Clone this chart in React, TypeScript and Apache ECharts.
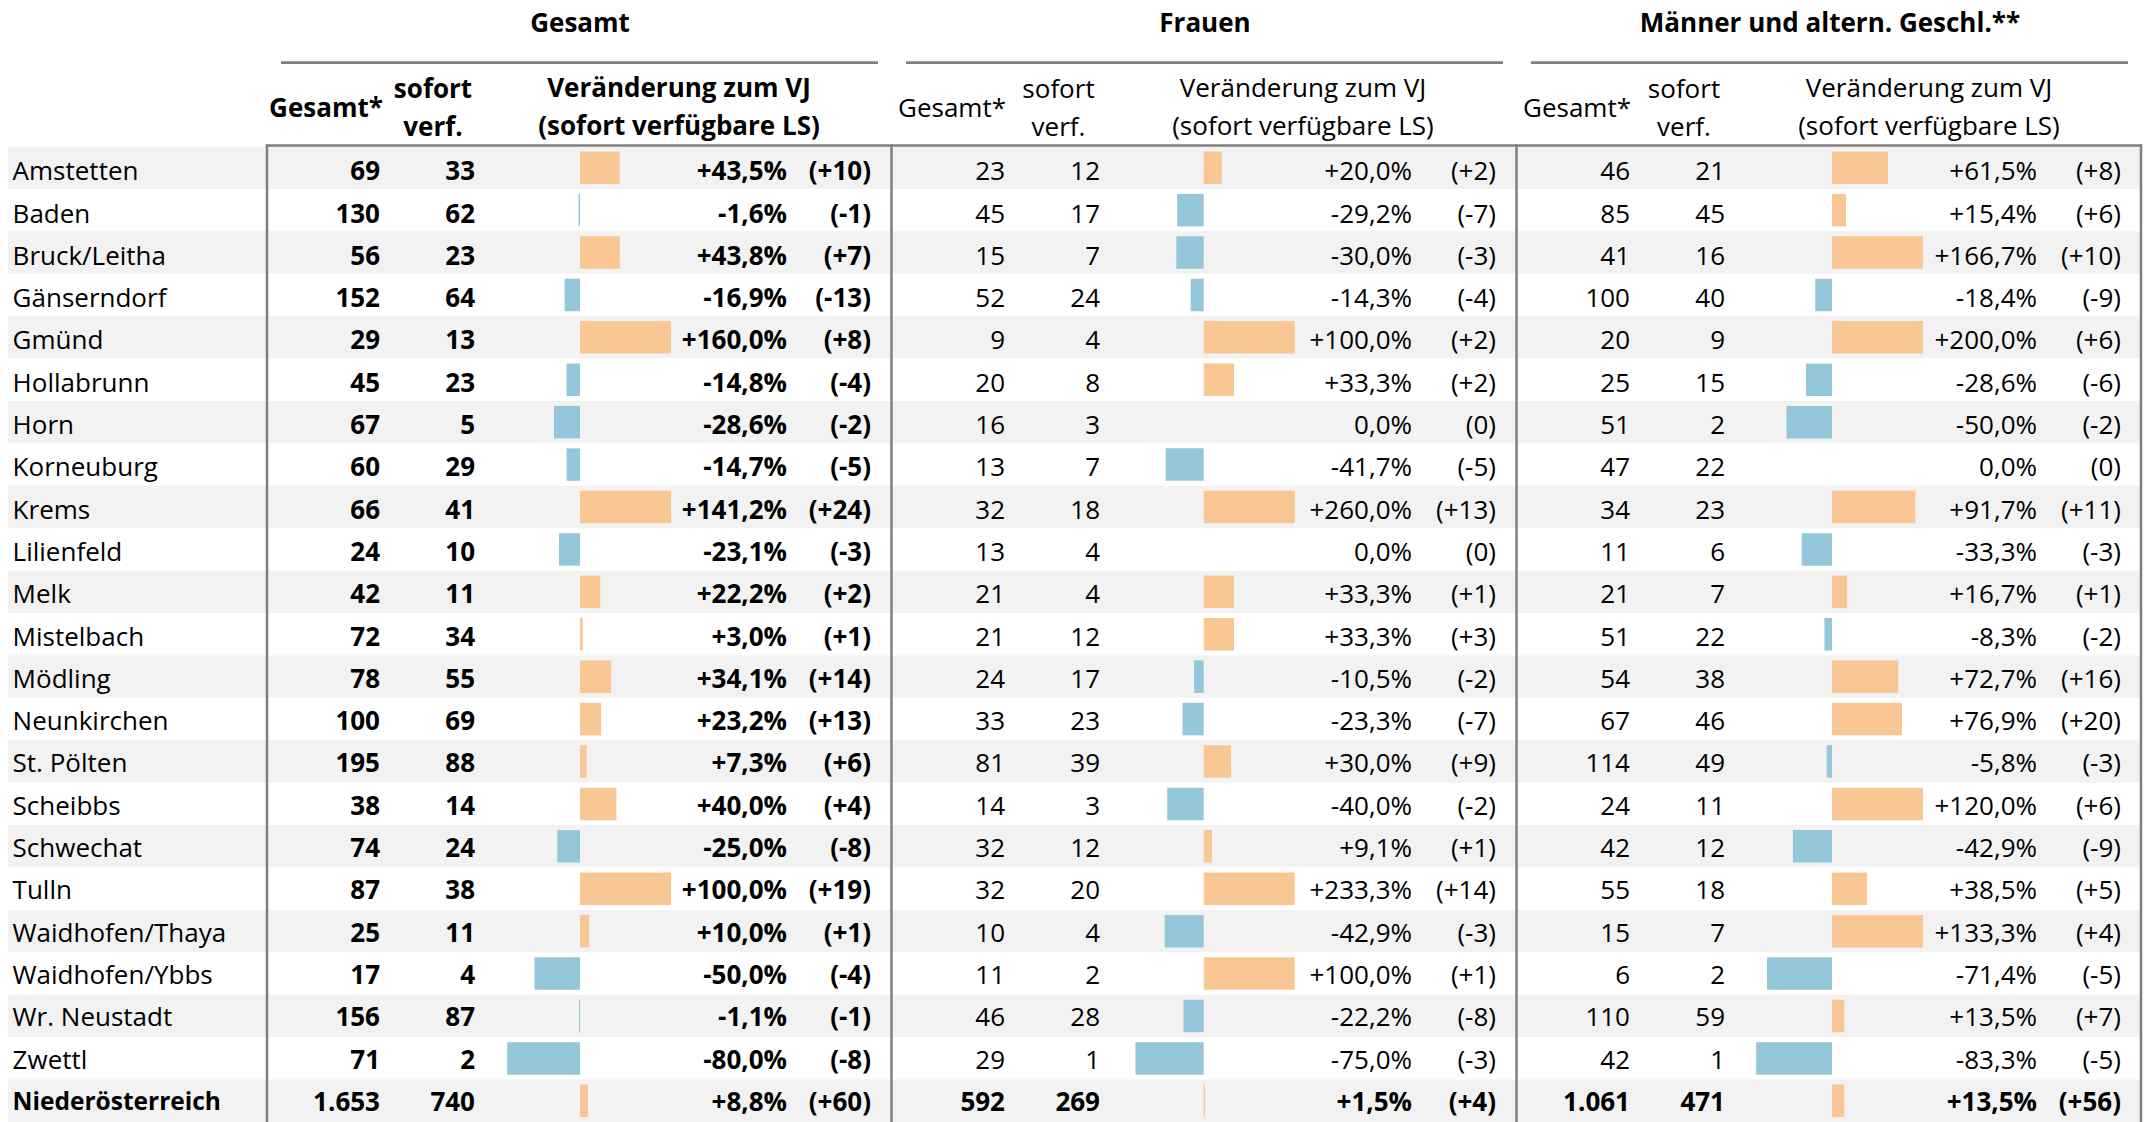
import React, { useEffect, useRef } from "react";
import * as echarts from "echarts";

// ---------- data ----------
const regions = [
  "Amstetten", "Baden", "Bruck/Leitha", "Gänserndorf", "Gmünd", "Hollabrunn", "Horn",
  "Korneuburg", "Krems", "Lilienfeld", "Melk", "Mistelbach", "Mödling", "Neunkirchen",
  "St. Pölten", "Scheibbs", "Schwechat", "Tulln", "Waidhofen/Thaya", "Waidhofen/Ybbs",
  "Wr. Neustadt", "Zwettl", "Niederösterreich",
];

const gesamtTotal = [69, 130, 56, 152, 29, 45, 67, 60, 66, 24, 42, 72, 78, 100, 195, 38, 74, 87, 25, 17, 156, 71, 1653];
const gesamtSofort = [33, 62, 23, 64, 13, 23, 5, 29, 41, 10, 11, 34, 55, 69, 88, 14, 24, 38, 11, 4, 87, 2, 740];
const gesamtPct = [43.5, -1.6, 43.8, -16.9, 160.0, -14.8, -28.6, -14.7, 141.2, -23.1, 22.2, 3.0, 34.1, 23.2, 7.3, 40.0, -25.0, 100.0, 10.0, -50.0, -1.1, -80.0, 8.8];
const gesamtDiff = [10, -1, 7, -13, 8, -4, -2, -5, 24, -3, 2, 1, 14, 13, 6, 4, -8, 19, 1, -4, -1, -8, 60];

const frauenTotal = [23, 45, 15, 52, 9, 20, 16, 13, 32, 13, 21, 21, 24, 33, 81, 14, 32, 32, 10, 11, 46, 29, 592];
const frauenSofort = [12, 17, 7, 24, 4, 8, 3, 7, 18, 4, 4, 12, 17, 23, 39, 3, 12, 20, 4, 2, 28, 1, 269];
const frauenPct = [20.0, -29.2, -30.0, -14.3, 100.0, 33.3, 0.0, -41.7, 260.0, 0.0, 33.3, 33.3, -10.5, -23.3, 30.0, -40.0, 9.1, 233.3, -42.9, 100.0, -22.2, -75.0, 1.5];
const frauenDiff = [2, -7, -3, -4, 2, 2, 0, -5, 13, 0, 1, 3, -2, -7, 9, -2, 1, 14, -3, 1, -8, -3, 4];

const maennerTotal = [46, 85, 41, 100, 20, 25, 51, 47, 34, 11, 21, 51, 54, 67, 114, 24, 42, 55, 15, 6, 110, 42, 1061];
const maennerSofort = [21, 45, 16, 40, 9, 15, 2, 22, 23, 6, 7, 22, 38, 46, 49, 11, 12, 18, 7, 2, 59, 1, 471];
const maennerPct = [61.5, 15.4, 166.7, -18.4, 200.0, -28.6, -50.0, 0.0, 91.7, -33.3, 16.7, -8.3, 72.7, 76.9, -5.8, 120.0, -42.9, 38.5, 133.3, -71.4, 13.5, -83.3, 13.5];
const maennerDiff = [8, 6, 10, -9, 6, -6, -2, 0, 11, -3, 1, -2, 16, 20, -3, 6, -9, 5, 4, -5, 7, -5, 56];

const sectionTitles = ["Gesamt", "Frauen", "Männer und altern. Geschl.**"];
const colHeadTotal = "Gesamt*";
const colHeadSofort = ["sofort", "verf."];
const colHeadChange = ["Veränderung zum VJ", "(sofort verfügbare LS)"];

// data-bar scale bounds (Excel data bars: lowest value .. 100 %)
const barMins = [-80, -75, -83.3];
const barMax = 100;

// ---------- layout / style ----------
const W = 2148;
const H = 1122;
const ROW_TOP = 146.5;
const ROW_H = 42.56;
const TEXT_DY = 2.6;
const HEAD_DY = 1.0;
const N = regions.length;
const FONT = "'Open Sans', 'Liberation Sans', Arial, sans-serif";
const FS = 26;
const ORANGE = "#F8C794";
const BLUE = "#94C7DA";
const LINE = "#7F7F7F";
const PX_PER_PCT = 0.91;

const sections = [
  { total: gesamtTotal, sofort: gesamtSofort, pct: gesamtPct, diff: gesamtDiff, bold: true,
    totalR: 380, sofortR: 475, pctR: 787, diffR: 871, zeroX: 580,
    titleX: 580, headTotalX: 326, headSofortX: 433, headChangeX: 679, lineX: [281, 878] },
  { total: frauenTotal, sofort: frauenSofort, pct: frauenPct, diff: frauenDiff, bold: false,
    totalR: 1005, sofortR: 1100, pctR: 1412, diffR: 1496, zeroX: 1203.7,
    titleX: 1205, headTotalX: 952, headSofortX: 1058.5, headChangeX: 1303, lineX: [906, 1503] },
  { total: maennerTotal, sofort: maennerSofort, pct: maennerPct, diff: maennerDiff, bold: false,
    totalR: 1630, sofortR: 1725, pctR: 2037, diffR: 2121, zeroX: 1832,
    titleX: 1830, headTotalX: 1577, headSofortX: 1684, headChangeX: 1929, lineX: [1531, 2128] },
];

const borderXs = [267, 891.5, 1516.5, 2141];

function fmtInt(v: number): string {
  return String(v).replace(/\B(?=(\d{3})+(?!\d))/g, ".");
}
function fmtPct(v: number): string {
  const s = Math.abs(v).toFixed(1).replace(".", ",");
  return (v > 0 ? "+" : v < 0 ? "-" : "") + s + "%";
}
function fmtDiff(v: number): string {
  return "(" + (v > 0 ? "+" : v < 0 ? "-" : "") + Math.abs(v) + ")";
}

function buildOption() {
  const grid: any[] = [];
  const xAxis: any[] = [];
  const yAxis: any[] = [];
  const series: any[] = [];

  const addGrid = (left: number, width: number, dy = 0) => {
    grid.push({ left, width, top: ROW_TOP + dy, height: ROW_H * N, containLabel: false });
    return grid.length - 1;
  };

  // background grid: alternating row bands
  const g0 = addGrid(8, borderXs[3] - 8);
  xAxis.push({ type: "value", gridIndex: g0, min: 0, max: 1, show: false });
  yAxis.push({
    type: "category",
    gridIndex: g0,
    inverse: true,
    data: regions,
    axisLine: { show: false },
    axisTick: { show: false },
    axisLabel: { show: false },
    splitLine: { show: false },
    splitArea: { show: true, areaStyle: { color: ["#F2F2F2", "#FFFFFF"] } },
  });

  // region names
  const gn = addGrid(8, 10, TEXT_DY);
  xAxis.push({ type: "value", gridIndex: gn, min: 0, max: 1, show: false });
  yAxis.push({
    type: "category",
    gridIndex: gn,
    inverse: true,
    position: "left",
    data: regions.map((r, i) => ({
      value: r,
      textStyle: i === N - 1 ? { fontWeight: "bold", fontSize: 24.5 } : { fontWeight: "normal" },
    })),
    axisLine: { show: false },
    axisTick: { show: false },
    splitLine: { show: false },
    axisLabel: {
      inside: true,
      margin: 4.6,
      interval: 0,
      fontSize: FS,
      fontFamily: FONT,
      color: "#000",
    },
  });

  const addTextColumn = (rightX: number, texts: string[], bold: boolean) => {
    const gi = addGrid(rightX, 10, TEXT_DY);
    xAxis.push({ type: "value", gridIndex: gi, min: 0, max: 1, show: false });
    yAxis.push({
      type: "category",
      gridIndex: gi,
      inverse: true,
      position: "left",
      data: regions.map((r, i) => ({
        value: r,
        textStyle: { fontWeight: bold || i === N - 1 ? "bold" : "normal" },
      })),
      axisLine: { show: false },
      axisTick: { show: false },
      splitLine: { show: false },
      axisLabel: {
        margin: 0,
        interval: 0,
        fontSize: FS,
        fontFamily: FONT,
        color: "#000",
        formatter: (_v: string, i: number) => texts[i],
      },
    });
  };

  sections.forEach((s, si) => {
    addTextColumn(s.totalR, s.total.map(fmtInt), s.bold);
    addTextColumn(s.sofortR, s.sofort.map(fmtInt), s.bold);
    addTextColumn(s.pctR, s.pct.map(fmtPct), s.bold);
    addTextColumn(s.diffR, s.diff.map(fmtDiff), s.bold);

    const min = barMins[si];
    const gi = addGrid(s.zeroX + min * PX_PER_PCT, (barMax - min) * PX_PER_PCT);
    const xi = xAxis.length;
    xAxis.push({ type: "value", gridIndex: gi, min, max: barMax, show: false });
    const yi = yAxis.length;
    yAxis.push({ type: "category", gridIndex: gi, inverse: true, data: regions, show: false });
    series.push({
      type: "bar",
      xAxisIndex: xi,
      yAxisIndex: yi,
      barWidth: 32.5,
      clip: true,
      silent: true,
      data: s.pct.map((v) => ({ value: v, itemStyle: { color: v >= 0 ? ORANGE : BLUE } })),
    });
  });

  // headers and lines
  const graphic: any[] = [];
  const txt = (text: string, x: number, y: number, bold: boolean) => ({
    type: "text",
    x,
    y: y + HEAD_DY,
    z: 100,
    style: {
      text,
      fill: "#000",
      font: `${bold ? "bold " : ""}${FS}px ${FONT}`,
      textAlign: "center",
      textVerticalAlign: "middle",
      align: "center",
      verticalAlign: "middle",
    },
  });
  sections.forEach((s, si) => {
    graphic.push(txt(sectionTitles[si], s.titleX, 21, true));
    graphic.push(txt(colHeadTotal, s.headTotalX, 106, s.bold));
    graphic.push(txt(colHeadSofort[0], s.headSofortX, 87, s.bold));
    graphic.push(txt(colHeadSofort[1], s.headSofortX, 125, s.bold));
    graphic.push(txt(colHeadChange[0], s.headChangeX, 86, s.bold));
    graphic.push(txt(colHeadChange[1], s.headChangeX, 124, s.bold));
    graphic.push({
      type: "line",
      z: 100,
      shape: { x1: s.lineX[0], y1: 62.7, x2: s.lineX[1], y2: 62.7 },
      style: { stroke: LINE, lineWidth: 2.7 },
    });
  });
  graphic.push({
    type: "line",
    z: 100,
    shape: { x1: borderXs[0] - 1.2, y1: 145.5, x2: borderXs[3] + 1.2, y2: 145.5 },
    style: { stroke: LINE, lineWidth: 2.5 },
  });
  borderXs.forEach((bx) => {
    graphic.push({
      type: "line",
      z: 100,
      shape: { x1: bx, y1: 144.3, x2: bx, y2: H + 5 },
      style: { stroke: LINE, lineWidth: 2.5 },
    });
  });

  return {
    animation: false,
    backgroundColor: "#FFFFFF",
    textStyle: { fontFamily: FONT },
    grid,
    xAxis,
    yAxis,
    series,
    graphic,
  };
}

export default function App() {
  const ref = useRef<HTMLDivElement>(null);
  useEffect(() => {
    document.body.style.margin = "0";
    if (!ref.current) return;
    const chart = echarts.init(ref.current, undefined, { renderer: "svg" });
    chart.setOption(buildOption() as any);
    return () => chart.dispose();
  }, []);
  return (
    <div
      ref={ref}
      style={{ position: "fixed", left: 0, top: 0, width: W, height: H, background: "#fff" }}
    />
  );
}
